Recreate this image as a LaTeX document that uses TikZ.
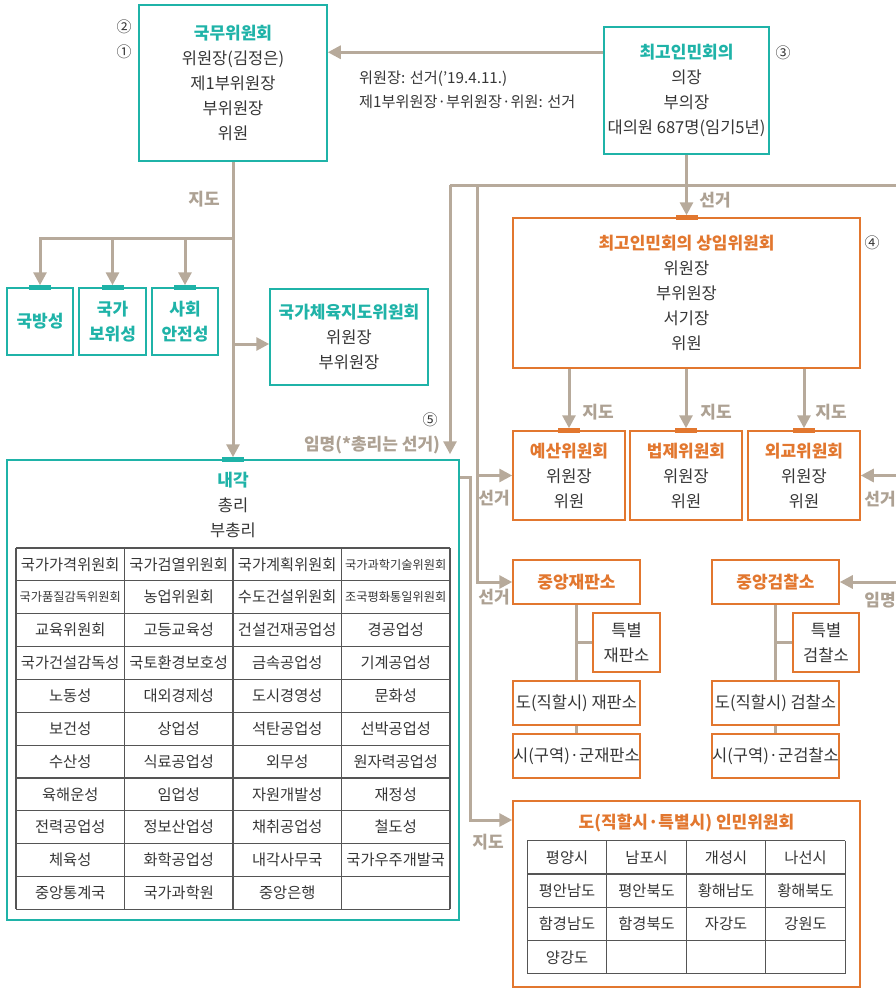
\documentclass[tikz,border=0pt]{standalone}
\usepackage{fontspec}
\setmainfont{Noto Sans CJK KR}
\usetikzlibrary{arrows.meta}

\definecolor{govteal}{HTML}{1FB3A8}
\definecolor{govorange}{HTML}{E2772F}
\definecolor{linkgray}{HTML}{B7AA9B}
\definecolor{labelgray}{HTML}{ADA193}
\definecolor{inkgray}{HTML}{363636}
\definecolor{gridgray}{HTML}{555555}

\newcommand{\tealhead}[1]{{\color{govteal}\bfseries\fontsize{17}{25}\selectfont #1}}
\newcommand{\orghead}[1]{{\color{govorange}\bfseries\fontsize{17}{25}\selectfont #1}}
\newcommand{\nar}[1]{{\fontsize{12.2}{13}\selectfont #1}}

\begin{document}
\begin{tikzpicture}[x=1pt,y=-1pt]
        \tikzstyle{every node}=[inner sep=0pt, text=inkgray, align=center, font=\fontsize{16.5}{25}\selectfont]
        \tikzstyle{tealbox}=[draw=govteal, line width=1.5pt]
        \tikzstyle{orgbox}=[draw=govorange, line width=1.5pt]
        \tikzstyle{tealbar}=[fill=govteal, minimum width=22pt, minimum height=5pt]
        \tikzstyle{orgbar}=[fill=govorange, minimum width=22pt, minimum height=5pt]
        \tikzstyle{link}=[draw=linkgray, line width=3pt]
        \tikzstyle{arr}=[link, -{Triangle[width=13pt,length=13pt]}]
        \tikzstyle{lbl}=[text=labelgray, font=\bfseries\fontsize{17}{18}\selectfont]
        \tikzstyle{num}=[font=\fontsize{15}{16}\selectfont]
        \tikzstyle{cell}=[font=\fontsize{15.3}{16}\selectfont]
        \tikzstyle{gridline}=[draw=gridgray, line width=1.1pt]
        \useasboundingbox (0,0) rectangle (896,988);

        % top boxes
        \node (sac) [tealbox, minimum width=188pt, minimum height=156pt] at (233,83)
            {\tealhead{국무위원회}\\위원장(김정은)\\제1부위원장\\부위원장\\위원};
        \node (spa) [tealbox, minimum width=165pt, minimum height=127pt] at (686.5,90.5)
            {\tealhead{최고인민회의}\\의장\\부의장\\대의원 687명(임기5년)};
        \node (n2) [num] at (124,27) {②};
        \node (n1) [num] at (124,52) {①};
        \node (n3) [num] at (783,53) {③};
        \coordinate (elecin) at ([yshift=-26pt]spa.north west);
        \draw[arr] (elecin) -- (elecin -| sac.east);
        \node (elecnote) [anchor=west, align=left, font=\fontsize{15.2}{24}\selectfont] at (359,90)
            {위원장: 선거('19.4.11.)\\제1부위원장·부위원장·위원: 선거};

        % cabinet side
        \node (def) [tealbox, minimum width=66pt, minimum height=67pt] at (40,321.5) {\tealhead{국방성}};
        \node (sec) [tealbox, minimum width=67pt, minimum height=67pt] at (112.5,321.5) {\tealhead{국가}\\\tealhead{보위성}};
        \node (soc) [tealbox, minimum width=66pt, minimum height=67pt] at (185,321.5) {\tealhead{사회}\\\tealhead{안전성}};
        \node (defbar) [tealbar] at (def.north) {};
        \node (secbar) [tealbar] at (sec.north) {};
        \node (socbar) [tealbar] at (soc.north) {};
        \node (spo) [tealbox, minimum width=158pt, minimum height=96pt] at (349,337)
            {\tealhead{국가체육지도위원회}\\위원장\\부위원장};
        \node (cab) [tealbox, minimum width=452pt, minimum height=460pt] at (233,690) {};
        \node (cabbar) [tealbar] at (cab.north) {};
        \node (cabhead) at (233,505) {\tealhead{내각}\\총리\\부총리};

        \coordinate (br) at (233,238);
        \draw[arr, shorten >=2pt] (sac.south) -- (cab.north);
        \draw[arr, shorten >=2pt] (br) -| (def.north);
        \draw[arr, shorten >=2pt] (br) -| (sec.north);
        \draw[arr, shorten >=2pt] (br) -| (soc.north);
        \coordinate (spoin) at ([yshift=-7pt]spo.west);
        \draw[arr] (spoin -| sac.south) -- (spoin);
        \node (guide1) [lbl] at (204,199) {지도};

        % cabinet table
        \foreach \x in {0,...,4}
            \draw[gridline] ({16+108.5*\x},548) -- ({16+108.5*\x},909.4);
        \foreach \y in {0,...,11}
            \draw[gridline] (16,{548+32.85*\y}) -- (450,{548+32.85*\y});
        \foreach \name [count=\i from 0] in {국가가격위원회, 국가검열위원회, 국가계획위원회, \nar{국가과학기술위원회},
                \nar{국가품질감독위원회}, 농업위원회, 수도건설위원회, \nar{조국평화통일위원회},
                교육위원회, 고등교육성, 건설건재공업성, 경공업성,
                국가건설감독성, 국토환경보호성, 금속공업성, 기계공업성,
                노동성, 대외경제성, 도시경영성, 문화성,
                보건성, 상업성, 석탄공업성, 선박공업성,
                수산성, 식료공업성, 외무성, 원자력공업성,
                육해운성, 임업성, 자원개발성, 재정성,
                전력공업성, 정보산업성, 채취공업성, 철도성,
                체육성, 화학공업성, 내각사무국, 국가우주개발국,
                중앙통계국, 국가과학원, 중앙은행} {
            \pgfmathtruncatemacro{\rw}{\i/4}
            \pgfmathtruncatemacro{\cl}{\i-4*\rw}
            \node (cab\i) [cell] at ({70.25+108.5*\cl},{564.4+32.85*\rw}) {\name};
        }

        % standing committee side
        \node (ssc) [orgbox, minimum width=347pt, minimum height=150pt] at (686.5,293)
            {\orghead{최고인민회의 상임위원회}\\위원장\\부위원장\\서기장\\위원};
        \node (sscbar) [orgbar] at (ssc.north) {};
        \node (n4) [num] at (872,243) {④};
        \node (bud) [orgbox, minimum width=112pt, minimum height=89pt] at (569,475.5) {\orghead{예산위원회}\\위원장\\위원};
        \node (law) [orgbox, minimum width=112pt, minimum height=89pt] at (686,475.5) {\orghead{법제위원회}\\위원장\\위원};
        \node (frn) [orgbox, minimum width=112pt, minimum height=89pt] at (804,475.5) {\orghead{외교위원회}\\위원장\\위원};
        \node (budbar) [orgbar] at (bud.north) {};
        \node (lawbar) [orgbar] at (law.north) {};
        \node (frnbar) [orgbar] at (frn.north) {};
        \draw[arr, shorten >=2pt] (spa.south) -- (ssc.north);
        \node (elect1) [lbl] at (715,200) {선거};
        \draw[arr, shorten >=2pt] (ssc.south -| bud.north) -- (bud.north);
        \draw[arr, shorten >=2pt] (ssc.south -| law.north) -- (law.north);
        \draw[arr, shorten >=2pt] (ssc.south -| frn.north) -- (frn.north);
        \node (guide2) [lbl] at (598,412) {지도};
        \node (guide3) [lbl] at (716,412) {지도};
        \node (guide4) [lbl] at (831,412) {지도};

        % courts and prosecutors
        \node (crt) [orgbox, minimum width=127pt, minimum height=44pt] at (576.5,582) {\orghead{중앙재판소}};
        \node (spc) [orgbox, minimum width=67pt, minimum height=59pt] at (626.5,642.5) {특별\\재판소};
        \node (pcrt) [orgbox, minimum width=127pt, minimum height=44pt] at (576.5,703) {도(직할시) 재판소};
        \node (ccrt) [orgbox, minimum width=127pt, minimum height=44pt] at (576.5,756) {시(구역)·군재판소};
        \node (pro) [orgbox, minimum width=127pt, minimum height=44pt] at (775.5,582) {\orghead{중앙검찰소}};
        \node (spp) [orgbox, minimum width=66pt, minimum height=59pt] at (826,642.5) {특별\\검찰소};
        \node (ppro) [orgbox, minimum width=127pt, minimum height=44pt] at (775.5,703) {도(직할시) 검찰소};
        \node (cpro) [orgbox, minimum width=127pt, minimum height=44pt] at (775.5,756) {시(구역)·군검찰소};
        \draw[link] (crt.south) -- (pcrt.north);
        \draw[link] (pcrt.south) -- (ccrt.north);
        \draw[link] (crt.south |- spc.west) -- (spc.west);
        \draw[link] (pro.south) -- (ppro.north);
        \draw[link] (ppro.south) -- (cpro.north);
        \draw[link] (pro.south |- spp.west) -- (spp.west);

        % provincial committees
        \node (prv) [orgbox, minimum width=347pt, minimum height=186pt] at (686.5,894) {};
        \node (prvhead) at (686.5,823) {\orghead{도(직할시·특별시) 인민위원회}};
        \foreach \x in {0,...,4}
            \draw[gridline] ({527.3+79.5*\x},840.7) -- ({527.3+79.5*\x},974);
        \foreach \y in {0,...,4}
            \draw[gridline] (527.3,{840.7+33.3*\y}) -- (845.3,{840.7+33.3*\y});
        \foreach \name [count=\i from 0] in {평양시, 남포시, 개성시, 나선시,
                평안남도, 평안북도, 황해남도, 황해북도,
                함경남도, 함경북도, 자강도, 강원도, 양강도} {
            \pgfmathtruncatemacro{\rw}{\i/4}
            \pgfmathtruncatemacro{\cl}{\i-4*\rw}
            \node (prv\i) [cell] at ({567.05+79.5*\cl},{857.35+33.3*\rw}) {\name};
        }

        % election and appointment lines
        \coordinate (tl) at (450,185);
        \coordinate (tm) at (477,185);
        \coordinate (tr) at (896,185);
        \draw[link] (tl) -- (tr);
        \draw[arr, shorten >=5pt] (tl) -- (tl |- cab.north);
        \node (n5) [num] at (430,420) {⑤};
        \node (appoint1) [lbl] at (372,445) {임명(*총리는 선거)};
        \draw[arr] (tm) |- (crt.west);
        \draw[arr] (tm |- bud.west) -- (bud.west);
        \node (elect2) [lbl] at (494,498) {선거};
        \node (elect3) [lbl] at (494,597) {선거};
        \coordinate (cabout) at ([yshift=-18pt]cab.north east);
        \coordinate (prvin) at ([yshift=74pt]prv.west);
        \draw[arr] (cabout) -- ++(11,0) |- (prvin);
        \node (guide5) [lbl] at (488,842) {지도};
        \coordinate (re1) at (896,475.5);
        \coordinate (re2) at (896,582);
        \draw[arr] (re1) -- (frn.east);
        \draw[arr] (re2) -- (pro.east);
        \node (elect4) [lbl] at (880,499) {선거};
        \node (appoint2) [lbl] at (880,600) {임명};
\end{tikzpicture}
\end{document}
